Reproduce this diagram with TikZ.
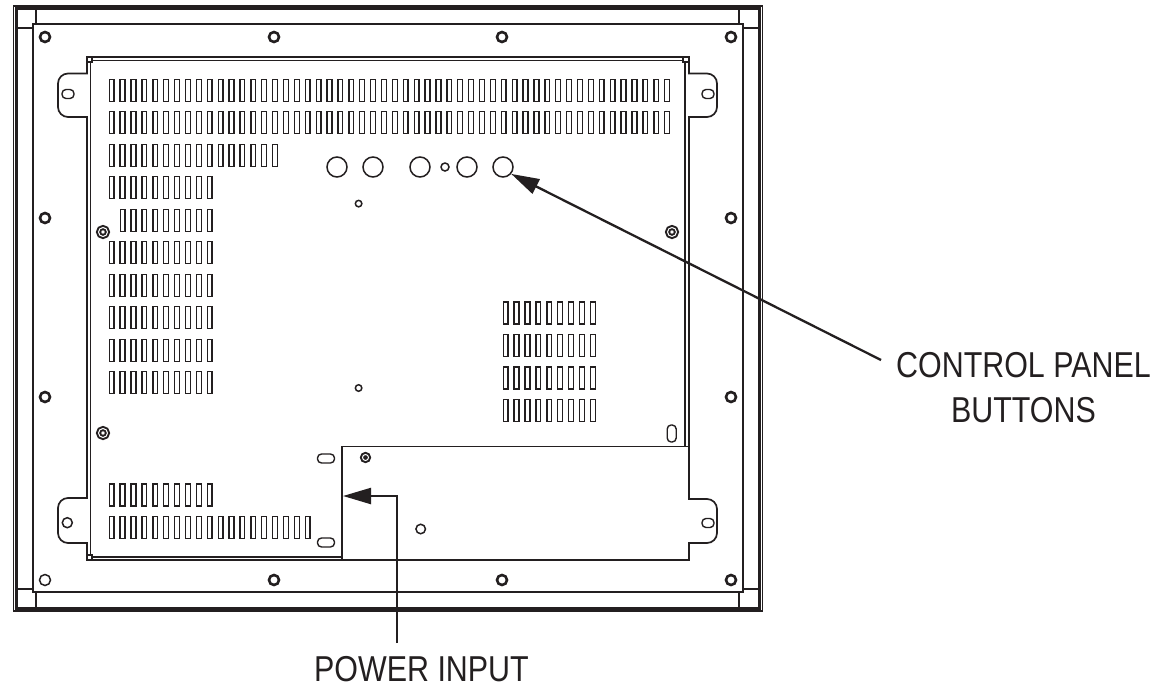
\documentclass[tikz,border=0pt]{standalone}
\usepackage{fontspec}
\setmainfont[FakeStretch=0.845]{Liberation Sans}
\usetikzlibrary{arrows.meta}
\definecolor{ink}{HTML}{231F20}

\begin{document}
\begin{tikzpicture}[
            x = 1pt, y = -1pt, % same numbers as the reference pixels
            > = {Triangle[length=28pt,width=16pt]}, % arrow head style
            color = ink,
            framehole/.style = {circle, draw, line width=2.6pt, inner sep=0pt, minimum size=10pt},
            thinhole/.style = {circle, draw, line width=1.5pt, inner sep=0pt, minimum size=#1},
            screw/.style = {circle, draw, line width=2pt, double, double distance=1pt, inner sep=0pt, minimum size=#1},
            slotted/.style = {draw, line width=1.4pt, rounded corners=4pt, inner sep=0pt, minimum width=#1},
            vent/.style = {draw, line width=1.4pt},
            leader/.style = {line width=2.3pt},
            callout/.style = {align=center, inner sep=0pt, font=\fontsize{36}{44.5}\selectfont}
        ]

        \useasboundingbox (0,0) rectangle (1163,689);

        % outer frame
        \draw[line width=1.2pt] (13.5,6) rectangle (762.5,611);
        \draw[line width=3pt] (16,8.5) rectangle (759.5,608.5);
        \draw[line width=1.5pt] (33,24) rectangle (743,592);

        % frame corners
        \draw[line width=1.2pt] (36,9) -- (36,24);
        \draw[line width=1.2pt] (17,28) -- (33,28);
        \draw[line width=1.2pt] (739,9) -- (739,24);
        \draw[line width=1.2pt] (743,28) -- (758,28);
        \draw[line width=1.2pt] (36,592) -- (36,608);
        \draw[line width=1.2pt] (17,589) -- (33,589);
        \draw[line width=1.2pt] (739,592) -- (739,608);
        \draw[line width=1.2pt] (743,589) -- (758,589);

        % panel with its four ears
        \draw[line width=1.7pt]
            (87,57) -- (689,57) -- (689,73.5)
            [rounded corners=10pt] -- (717,73.5) -- (717,117)
            [sharp corners] -- (689,117) -- (689,499)
            [rounded corners=10pt] -- (717,499) -- (717,543)
            [sharp corners] -- (689,543) -- (689,560) -- (87,560) -- (87,543)
            [rounded corners=10pt] -- (58,543) -- (58,498)
            [sharp corners] -- (87,498) -- (87,117)
            [rounded corners=10pt] -- (58,117) -- (58,73.5)
            [sharp corners] -- (87,73.5) -- cycle;

        % inner edge of the panel
        \draw[line width=1.2pt] (92,60.5) -- (683,60.5);
        \draw[line width=1.2pt] (90.5,62) -- (90.5,555);
        \draw[line width=1.2pt] (685,62) -- (685,446.5);
        \draw[line width=1.2pt] (92,557) -- (342,557);
        \draw[line width=1.2pt] (87,62) -- (92,62) -- (92,57);
        \draw[line width=1.2pt] (683,57) -- (683,62) -- (689,62);
        \draw[line width=1.2pt] (87,555) -- (92,555) -- (92,560);

        % power cover
        \draw[line width=1.5pt] (342,560) -- (342,446.5) -- (689,446.5);

        % vents
        \foreach \ypos/\xfirst/\num in {
                90.25/111.7/52, 122.75/111.7/52, 155.25/111.7/16, 187.75/111.7/10,
                220.25/122.6/9, 252.75/111.7/10, 285.25/111.7/10, 317.75/111.7/10,
                350.25/111.7/10, 382.75/111.7/10, 495/111.7/10, 527.5/111.7/19,
                313/505.7/9, 345.5/505.7/9, 378/505.7/9, 410.5/505.7/9}
            \foreach \n in {1,...,\num}
                \draw[vent] ({\xfirst+(\n-1)*10.89-2.4},\ypos-11) rectangle ++(4.8,22);

        % frame holes
        \foreach \xpos in {45,274,502,731}
            \node[framehole] (top\xpos) at (\xpos,37) {};
        \foreach \xpos in {274,502,731}
            \node[framehole] (bot\xpos) at (\xpos,580) {};
        \node[framehole] (left1) at (45,218) {};
        \node[framehole] (left2) at (45,397) {};
        \node[framehole] (right1) at (731,218) {};
        \node[framehole] (right2) at (731,397) {};
        \node[thinhole=11pt] (bot45) at (45,580) {};

        % screws
        \node[screw=9pt] (scr1) at (103,232) {};
        \node[screw=9pt] (scr2) at (672,232) {};
        \node[screw=9pt] (scr3) at (103,433) {};
        \node[screw=6pt] (scr4) at (365.5,457.5) {};

        % ear holes and slots
        \node[slotted=12pt, minimum height=9pt] (ear1) at (68,94) {};
        \node[slotted=12pt, minimum height=9pt] (ear2) at (708,94) {};
        \node[slotted=12pt, minimum height=9pt] (ear3) at (708,523) {};
        \node[thinhole=10pt] (ear4) at (67.3,522.7) {};
        \node[slotted=9pt, minimum height=17pt] (slot1) at (671.7,433.5) {};
        \node[slotted=17pt, minimum height=9pt] (slot2) at (326,458.5) {};
        \node[slotted=17pt, minimum height=9pt] (slot3) at (326,542.5) {};

        % small holes
        \node[thinhole=6.5pt] (hole1) at (358.6,203.6) {};
        \node[thinhole=6.5pt] (hole2) at (358.6,388) {};
        \node[thinhole=8pt] (hole3) at (445,167) {};
        \node[thinhole=9.5pt] (hole4) at (420.7,529) {};

        % buttons
        \node[thinhole=20pt] (btn1) at (337,167) {};
        \node[thinhole=20pt] (btn2) at (373,167) {};
        \node[thinhole=20pt] (btn3) at (420,167) {};
        \node[thinhole=20pt] (btn4) at (467,167) {};
        \node[thinhole=20pt] (btn5) at (503,167) {};

        % labels and their arrows
        \node[callout] (ctrllabel) at (1023.5,387.5) {CONTROL PANEL\\BUTTONS};
        \node[callout] (pwrlabel) at (421.5,669) {POWER INPUT};
        \coordinate (ctrlend) at (881,360);
        \coordinate (pwrend) at (397,643);
        \coordinate (pwrtip) at (343,496);

        \draw[leader, ->] (ctrlend) -- (btn5.-40);
        \draw[leader, ->] (pwrend) |- (pwrtip);

\end{tikzpicture}
\end{document}
